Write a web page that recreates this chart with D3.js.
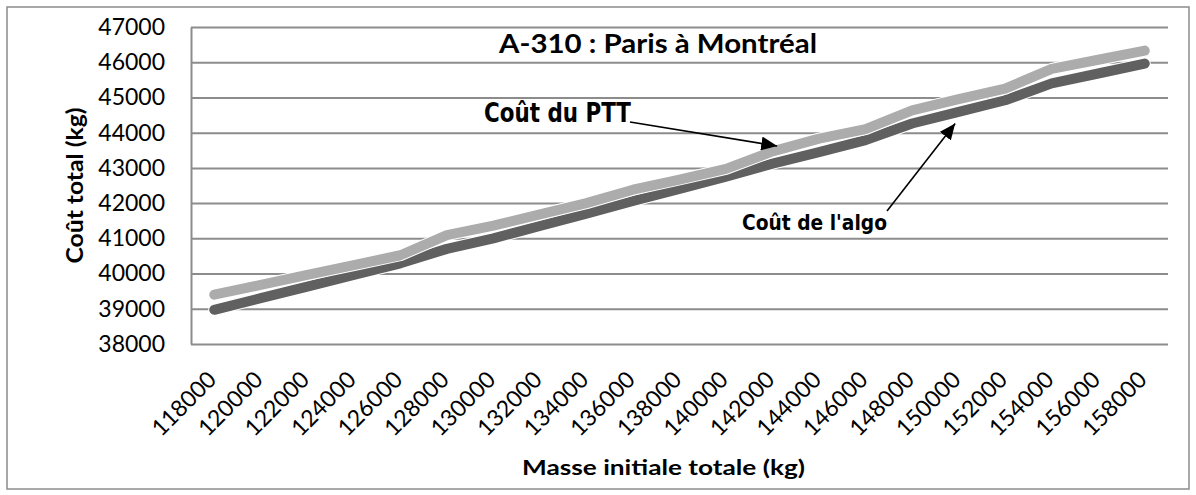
<!DOCTYPE html>
<html>
<head>
<meta charset="utf-8">
<script src="https://d3js.org/d3.v7.min.js"></script>
<style>
  body { margin: 0; background: #fff; }
  text { font-family: Lato, "Open Sans", sans-serif; fill: #000; }
</style>
</head>
<body>
<div id="chart"></div>
<script>

// masses initiales (kg) on the category axis
const masses = [118000, 120000, 122000, 124000, 126000, 128000, 130000, 132000, 134000, 136000,
  138000, 140000, 142000, 144000, 146000, 148000, 150000, 152000, 154000, 156000, 158000];

// cost (kg)
const coutPTT = [39400, 39680, 39960, 40240, 40520, 41090, 41360, 41680, 42000, 42380,
  42670, 42970, 43470, 43830, 44100, 44630, 44950, 45250, 45810, 46070, 46330];
const coutAlgo = [38970, 39300, 39630, 39960, 40290, 40700, 41000, 41350, 41700, 42060,
  42400, 42750, 43120, 43450, 43790, 44260, 44590, 44920, 45400, 45680, 45960];

const yTicks = [38000, 39000, 40000, 41000, 42000, 43000, 44000, 45000, 46000, 47000];

const chartTitle = "A-310 : Paris à Montréal";
const yTitle = "Coût total (kg)";
const xTitle = "Masse initiale totale (kg)";

// callouts: tip given in data units, label in page pixels
const callouts = [
  { label: "Coût du PTT", tipMass: 142200, tipValue: 43620, lx: 484, ly: 122, len: 147, size: 26, fromX: 630, fromY: 122 },
  { label: "Coût de l'algo", tipMass: 149850, tipValue: 44260, lx: 742, ly: 230, len: 145, size: 21, fromX: 887, fromY: 211 }
];

const dims = {
  width: 1196,
  height: 495,
  left: 191,
  right: 1168,
  top: 27,
  bottom: 344
};

const svg = d3.select("#chart").append("svg")
  .attr("width", dims.width)
  .attr("height", dims.height);

// outer frame of the chart object
svg.append("rect")
  .attr("x", 7).attr("y", 7)
  .attr("width", 1182).attr("height", 482)
  .attr("fill", "#fff")
  .attr("stroke", "#8c8c8c")
  .attr("stroke-width", 1.5);

const x = d3.scalePoint().domain(masses).range([dims.left, dims.right]).padding(0.5);
const y = d3.scaleLinear().domain([38000, 47000]).range([dims.bottom, dims.top]);

// y axis + gridlines
const yAxis = svg.append("g")
  .attr("class", "axis y-axis")
  .attr("transform", `translate(${dims.left},0)`)
  .call(d3.axisLeft(y).tickValues(yTicks).tickFormat(d3.format("d"))
    .tickSize(-(dims.right - dims.left)).tickSizeOuter(0).tickPadding(26));

yAxis.select(".domain").attr("stroke", "#8c8c8c").attr("stroke-width", 2);
yAxis.selectAll(".tick line").attr("stroke", "#8c8c8c").attr("stroke-width", 2);
yAxis.selectAll(".tick text")
  .style("font-family", "Lato")
  .style("font-size", "23px")
  .attr("fill", "#000");

// x axis, labels at 45 degrees
const xAxis = svg.append("g")
  .attr("class", "axis x-axis")
  .attr("transform", `translate(0,${dims.bottom})`)
  .call(d3.axisBottom(x).tickSize(0).tickFormat(d3.format("d")));

xAxis.select(".domain").remove();
xAxis.selectAll(".tick text")
  .attr("x", 0).attr("y", 0).attr("dy", 0)
  .attr("text-anchor", "end")
  .attr("transform", "translate(3,37) rotate(-45)")
  .style("font-family", "Lato")
  .style("font-size", "23px")
  .attr("fill", "#000");

// series lines
const series = [
  { values: coutAlgo, color: "#606060" },
  { values: coutPTT, color: "#acacac" }
];

const line = d3.line()
  .x((d, i) => x(masses[i]))
  .y(d => y(d));

series.forEach(s => {
  svg.append("path")
    .datum(s.values)
    .attr("d", line)
    .attr("fill", "none")
    .attr("stroke", "#fff")
    .attr("stroke-width", 12)
    .attr("stroke-linecap", "round")
    .attr("stroke-linejoin", "round");
  svg.append("path")
    .datum(s.values)
    .attr("class", "line")
    .attr("d", line)
    .attr("fill", "none")
    .attr("stroke", s.color)
    .attr("stroke-width", 10)
    .attr("stroke-linecap", "round")
    .attr("stroke-linejoin", "round");
});

// titles
svg.append("text")
  .attr("x", 499).attr("y", 53)
  .attr("textLength", 318).attr("lengthAdjust", "spacingAndGlyphs")
  .style("font-size", "26px").style("font-weight", "bold")
  .text(chartTitle);

svg.append("text")
  .attr("transform", `translate(83,${(dims.top + dims.bottom) / 2}) rotate(-90)`)
  .attr("text-anchor", "middle")
  .attr("textLength", 156).attr("lengthAdjust", "spacingAndGlyphs")
  .style("font-size", "23px").style("font-weight", "bold")
  .text(yTitle);

svg.append("text")
  .attr("x", 522).attr("y", 475)
  .attr("textLength", 283).attr("lengthAdjust", "spacingAndGlyphs")
  .style("font-size", "21px").style("font-weight", "bold")
  .text(xTitle);

// callouts with arrows
svg.append("defs").append("marker")
  .attr("id", "head")
  .attr("markerUnits", "userSpaceOnUse")
  .attr("viewBox", "0 0 16 14")
  .attr("refX", 16).attr("refY", 7)
  .attr("markerWidth", 16).attr("markerHeight", 14)
  .attr("orient", "auto")
  .append("path")
  .attr("d", "M0,0 L16,7 L0,14 Z")
  .attr("fill", "#000");

callouts.forEach(c => {
  svg.append("line")
    .attr("x1", c.fromX).attr("y1", c.fromY)
    .attr("x2", x.step() * ((c.tipMass - masses[0]) / 2000) + x(masses[0]))
    .attr("y2", y(c.tipValue))
    .attr("stroke", "#000")
    .attr("stroke-width", 1.6)
    .attr("marker-end", "url(#head)");
  svg.append("text")
    .attr("x", c.lx).attr("y", c.ly)
    .attr("textLength", c.len).attr("lengthAdjust", "spacingAndGlyphs")
    .style("font-family", "'DejaVu Sans Condensed', 'DejaVu Sans'")
    .style("font-stretch", "condensed")
    .style("font-size", c.size + "px")
    .style("font-weight", "bold")
    .text(c.label);
});

</script>
</body>
</html>
